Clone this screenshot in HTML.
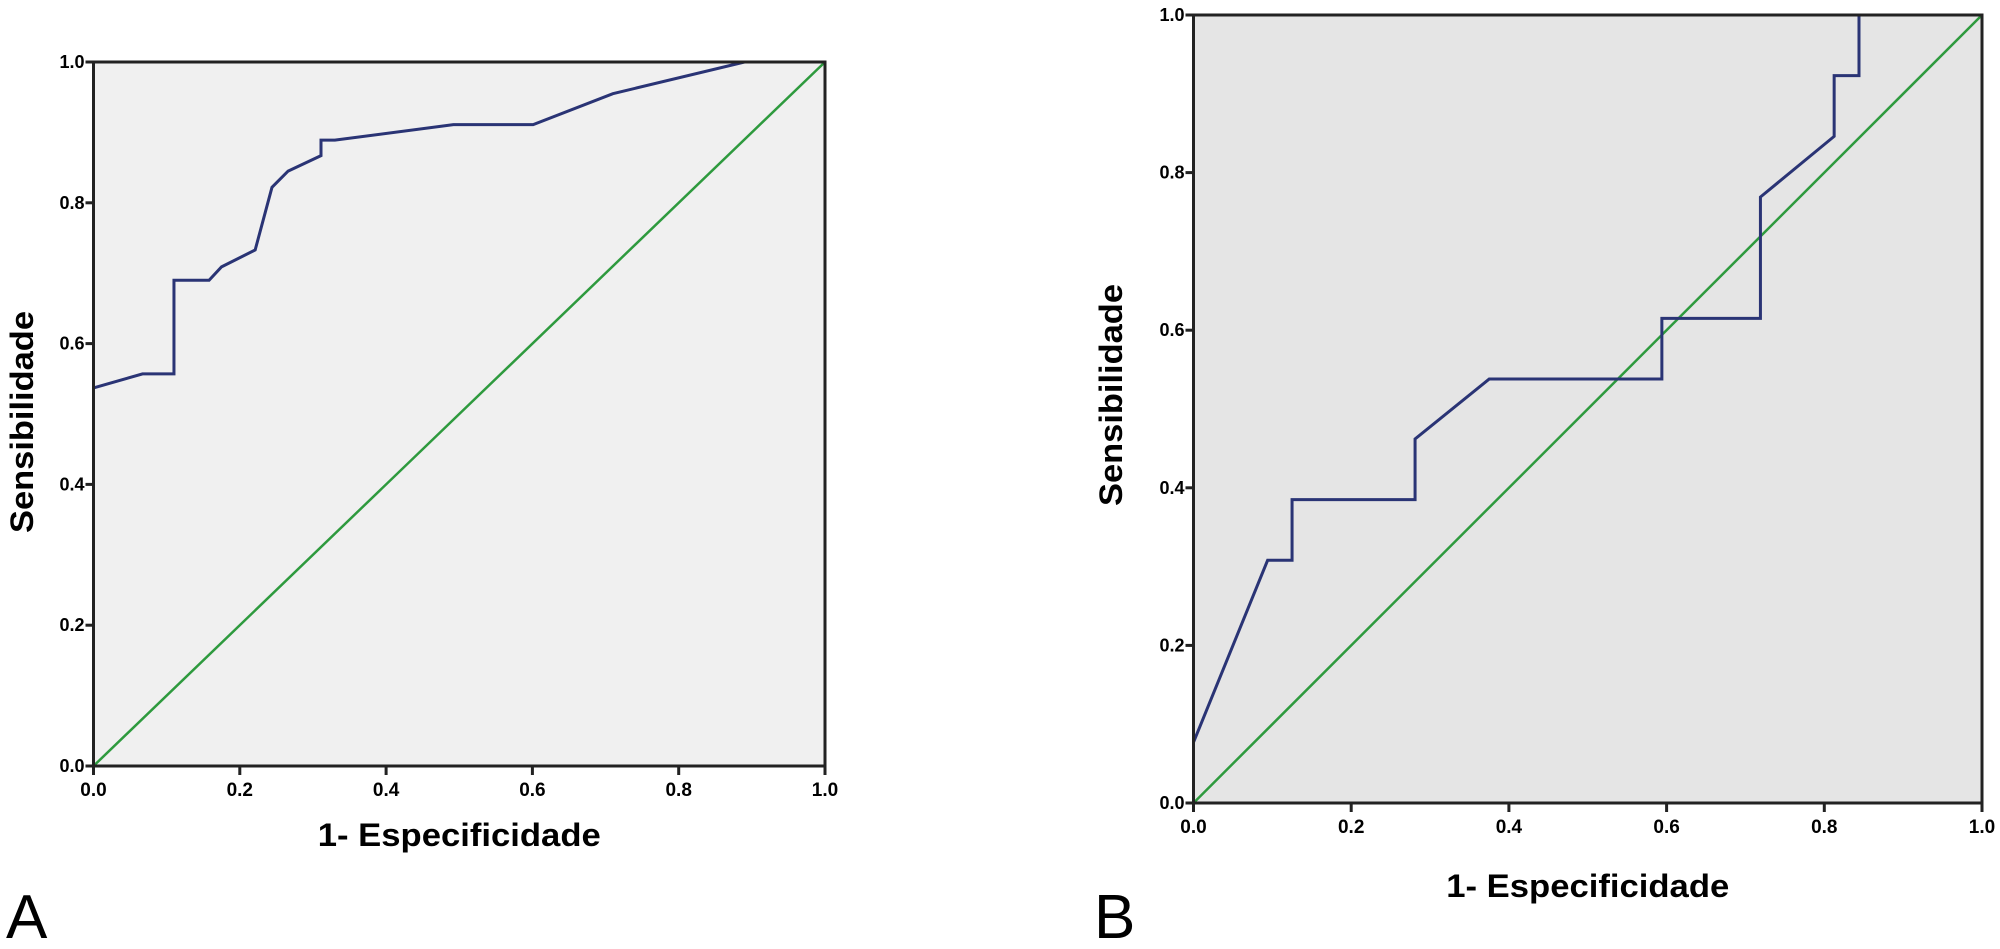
<!DOCTYPE html>
<html><head><meta charset="utf-8"><style>
html,body{margin:0;padding:0;background:#fff;width:2000px;height:949px;overflow:hidden}
svg{display:block}
text{font-family:"Liberation Sans",Arial,sans-serif;fill:#000}
</style></head><body>
<svg id="chart" width="2000" height="949" viewBox="0 0 2000 949"></svg>
<script>
// Panel A data
const ticks = [0, 0.2, 0.4, 0.6, 0.8, 1.0];
const tickLabels = ["0.0", "0.2", "0.4", "0.6", "0.8", "1.0"];
const rocA_fpr = [0, 0.067, 0.11, 0.11, 0.158, 0.175, 0.221, 0.244, 0.266, 0.311, 0.311, 0.33, 0.492, 0.601, 0.71, 0.89, 1.0];
const rocA_tpr = [0.537, 0.557, 0.557, 0.69, 0.69, 0.709, 0.733, 0.822, 0.845, 0.867, 0.889, 0.889, 0.911, 0.911, 0.955, 1.0, 1.0];
// Panel B data
const rocB_fpr = [0, 0.094, 0.125, 0.125, 0.281, 0.281, 0.375, 0.594, 0.594, 0.719, 0.719, 0.8125, 0.8125, 0.844, 0.844, 1.0];
const rocB_tpr = [0.077, 0.308, 0.308, 0.385, 0.385, 0.462, 0.538, 0.538, 0.615, 0.615, 0.769, 0.846, 0.923, 0.923, 1.0, 1.0];
const refX = [0, 1];
const refY = [0, 1];

const NS = "http://www.w3.org/2000/svg";
const svg = document.getElementById("chart");
function mk(tag, attrs, parent) {
  const e = document.createElementNS(NS, tag);
  for (const k in attrs) e.setAttribute(k, attrs[k]);
  (parent || svg).appendChild(e);
  return e;
}

function panel(cfg) {
  const g = mk("g", {});
  
  
  const sx = v => cfg.x0 + v * (cfg.x1 - cfg.x0);
  const sy = v => cfg.y0 - v * (cfg.y0 - cfg.y1);
  const bg = mk("rect", {x: cfg.x0, y: cfg.y1, width: cfg.x1 - cfg.x0, height: cfg.y0 - cfg.y1, fill: cfg.bg}, g);
  
  
  const ref = mk("polyline", {points: refX.map((v, i) => sx(v) + "," + sy(refY[i])).join(" "), fill: "none", stroke: "#2e9a3e", "stroke-width": 2.5}, g);
  
  
  const roc = mk("polyline", {points: cfg.fx.map((v, i) => sx(v) + "," + sy(cfg.fy[i])).join(" "), fill: "none", stroke: "#2a3475", "stroke-width": 3, "stroke-linejoin": "miter"}, g);
  
  
  const fr = mk("rect", {x: cfg.x0, y: cfg.y1, width: cfg.x1 - cfg.x0, height: cfg.y0 - cfg.y1, fill: "none", stroke: "#222", "stroke-width": 3}, g);
  
  
  ticks.forEach((t, i) => {
    mk("line", {x1: cfg.x0 - 8, x2: cfg.x0, y1: sy(t), y2: sy(t), stroke: "#222", "stroke-width": 3}, g);
    const yl = mk("text", {x: cfg.x0 - 9, y: sy(t) + 6, "text-anchor": "end", "font-size": 18, "font-weight": "bold"}, g);
    yl.textContent = tickLabels[i];
    
    
    mk("line", {x1: sx(t), x2: sx(t), y1: cfg.y0, y2: cfg.y0 + 9, stroke: "#222", "stroke-width": 3}, g);
    const xl = mk("text", {x: sx(t), y: cfg.y0 + 30, "text-anchor": "middle", "font-size": 19, "font-weight": "bold"}, g);
    xl.textContent = tickLabels[i];
    
    
  });
  const xt = mk("text", {x: (cfg.x0 + cfg.x1) / 2, y: cfg.xtY, "text-anchor": "middle", "font-size": 32, "font-weight": "bold", textLength: 283, lengthAdjust: "spacingAndGlyphs"}, g);
  xt.textContent = "1- Especificidade";
  
  
  const yt = mk("text", {x: 0, y: 0, "text-anchor": "middle", "font-size": 32, "font-weight": "bold", textLength: 222, lengthAdjust: "spacingAndGlyphs", transform: "translate(" + cfg.ytX + "," + cfg.ytY + ") rotate(-90)"}, g);
  yt.textContent = "Sensibilidade";
  
  
  const pl = mk("text", {x: cfg.lx, y: 938, "font-size": 62, "font-weight": "normal"}, g);
  pl.textContent = cfg.letter;
  
  
}

panel({name: "panel-a", x0: 93.5, x1: 825, y0: 766, y1: 62, bg: "#f0f0f0", fx: rocA_fpr, fy: rocA_tpr, xtY: 846, ytX: 33, ytY: 422, lx: 6, letter: "A"});
panel({name: "panel-b", x0: 1193.5, x1: 1982, y0: 803, y1: 15, bg: "#e5e5e5", fx: rocB_fpr, fy: rocB_tpr, xtY: 897, ytX: 1122, ytY: 395, lx: 1094, letter: "B"});
</script>
</body></html>
